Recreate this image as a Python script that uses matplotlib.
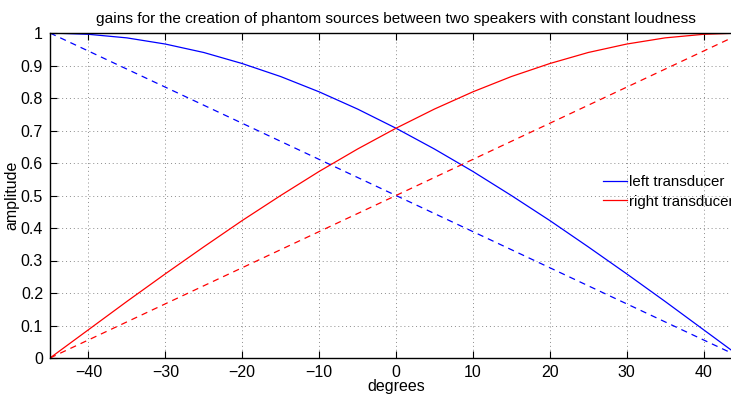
import matplotlib
matplotlib.use("Agg")
import matplotlib.pyplot as plt

plt.rcParams['font.family'] = ['Liberation Sans', 'DejaVu Sans']

# panning angle in degrees
degrees = [-45, -40, -35, -30, -25, -20, -15, -10, -5, 0,
           5, 10, 15, 20, 25, 30, 35, 40, 45]

# constant-loudness (sine/cosine) gains
left_gain = [1.000, 0.996, 0.985, 0.966, 0.940, 0.906, 0.866, 0.819, 0.766, 0.707,
             0.643, 0.574, 0.500, 0.423, 0.342, 0.259, 0.174, 0.087, 0.000]
right_gain = [0.000, 0.087, 0.174, 0.259, 0.342, 0.423, 0.500, 0.574, 0.643, 0.707,
              0.766, 0.819, 0.866, 0.906, 0.940, 0.966, 0.985, 0.996, 1.000]

# linear (constant amplitude sum) gains
lin_degrees = [-45, 0, 45]
left_linear = [1.0, 0.5, 0.0]
right_linear = [0.0, 0.5, 1.0]

xticks = [-40, -30, -20, -10, 0, 10, 20, 30, 40]
yticks = [0, 0.1, 0.2, 0.3, 0.4, 0.5, 0.6, 0.7, 0.8, 0.9, 1]
ytick_labels = ['0', '0.1', '0.2', '0.3', '0.4', '0.5', '0.6', '0.7', '0.8', '0.9', '1']

FS = 11.5
W, H = 731, 394
fig = plt.figure(figsize=(W / 100, H / 100), dpi=100)
ax = fig.add_axes([50 / W, 36 / H, 692 / W, 325 / H])

ax.plot(degrees, left_gain, color=(0, 0, 1), lw=0.9, label='left transducer')
ax.plot(degrees, right_gain, color=(1, 0, 0), lw=0.9, label='right transducer')
ax.plot(lin_degrees, left_linear, color=(0, 0, 1), lw=0.9, ls=(0, (5, 4)))
ax.plot(lin_degrees, right_linear, color=(1, 0, 0), lw=0.9, ls=(0, (5, 4)))

ax.set_xlim(-45, 45)
ax.set_ylim(0, 1)
ax.set_xticks(xticks)
ax.set_yticks(yticks)
ax.set_yticklabels(ytick_labels)
ax.tick_params(direction='in', top=True, right=True, length=5, width=0.8,
               labelsize=FS, colors='black', pad=5)
ax.grid(True, color=(0.55, 0.55, 0.55), ls=(0, (1, 3)), lw=0.7)
for s in ax.spines.values():
    s.set_linewidth(1.0)

ax.set_title('gains for the creation of phantom sources between two speakers with constant loudness',
             fontsize=11.1, pad=7)
ax.set_xlabel('degrees', fontsize=FS, labelpad=-1)
ax.set_ylabel('amplitude', fontsize=FS, labelpad=1)

ax.legend(loc='center left', bbox_to_anchor=(0.7905, 0.511), frameon=False,
          fontsize=10.8, handlelength=1.6, handletextpad=0.1, labelspacing=0.35,
          borderaxespad=0)

fig.savefig('out.png', dpi=100)
